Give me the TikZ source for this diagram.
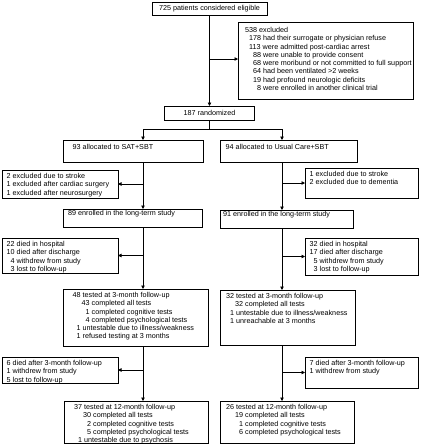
\documentclass[tikz,border=0pt]{standalone}
\usepackage{fontspec}
\setmainfont{Liberation Sans}
\usetikzlibrary{arrows.meta}

\tikzset{
  box/.style 2 args={draw, line width=0.7pt, anchor=north west, inner sep=0pt, outer sep=0pt,
    minimum width=#1pt, minimum height=#2pt, font=\fontsize{7.2}{8.3}\selectfont},
  txt/.style={draw=none, anchor=north west, align=left, minimum width=0pt, minimum height=0pt,
    inner xsep=4.5pt, inner ysep=3pt, font=\fontsize{7.2}{8.3}\selectfont},
  link/.style={line width=0.7pt},
  arr/.style={link, -{Triangle[length=3.5pt,width=3.5pt]}}
}
\newcommand{\lvl}{\hspace*{9pt}}
\newcommand{\dg}{\phantom{0}}

\begin{document}
\begin{tikzpicture}[x=1pt,y=-1pt]
  \useasboundingbox (0,0) rectangle (421,448);
  \coordinate (colL) at (143,0);
  \coordinate (colR) at (282,0);
  \coordinate (jExcl) at (209.5,59);
  \coordinate (split) at (209.5,129);

  \node[box={115}{13}] (elig) at (152,2) {725 patients considered eligible};
  \node[box={175}{77}, label={[txt, inner xsep=7pt, inner ysep=5pt]north west:{538 excluded\\
    \dg 178 had their surrogate or physician refuse\\
    \dg 113 were admitted post-cardiac arrest\\
    \dg\dg 88 were unable to provide consent\\
    \dg\dg 68 were moribund or not committed to full support\\
    \dg\dg 64 had been ventilated >2 weeks\\
    \dg\dg 19 had profound neurologic deficits\\
    \dg\dg\dg 8 were enrolled in another clinical trial}}] (excl) at (238,22) {};
  \node[box={90}{14}] (rand) at (164.5,106) {187 randomized};

  \node[box={140}{22}, label={[txt, inner xsep=9.5pt, inner ysep=4pt]north west:93 allocated to SAT+SBT}] (allocL) at (63,140) {};
  \node[box={137}{22}, label={[txt, inner xsep=5.5pt, inner ysep=4pt]north west:94 allocated to Usual Care+SBT}] (allocR) at (220,140) {};

  \node[box={116}{28}, label={[txt]north west:{2 excluded due to stroke\\
    1 excluded after cardiac surgery\\
    1 excluded after neurosurgery}}] (exL) at (2,170) {};
  \node[box={113}{30}, label={[txt]north west:{1 excluded due to stroke\\
    2 excluded due to dementia}}] (exR) at (305,168) {};

  \node[box={139}{18}, label={[txt, inner xsep=5pt, inner ysep=1.5pt]north west:89 enrolled in the long-term study}] (enrL) at (63,209) {};
  \node[box={133}{18}, label={[txt, inner xsep=3pt, inner ysep=1.5pt]north west:91 enrolled in the long-term study}] (enrR) at (220,210) {};

  \node[box={116}{35}, label={[txt]north west:{22 died in hospital\\
    10 died after discharge\\
    \dg 4 withdrew from study\\
    \dg 3 lost to follow-up}}] (diedL) at (2,238) {};
  \node[box={113}{37}, label={[txt]north west:{32 died in hospital\\
    17 died after discharge\\
    \dg 5 withdrew from study\\
    \dg 3 lost to follow-up}}] (diedR) at (305,238) {};

  \node[box={145}{57}, label={[txt, inner xsep=9.5pt]north west:{48 tested at 3-month follow-up\\
    \lvl 43 completed all tests\\
    \lvl\dg 1 completed cognitive tests\\
    \lvl\dg 4 completed psychological tests\\
    \dg 1 untestable due to illness/weakness\\
    \dg 1 refused testing at 3 months}}] (mthreeL) at (63,289) {};
  \node[box={135}{55}, label={[txt, inner xsep=6pt]north west:{32 tested at 3-month follow-up\\
    \lvl 32 completed all tests\\
    \dg 1 untestable due to illness/weakness\\
    \dg 1 unreachable at 3 months}}] (mthreeR) at (220,290) {};

  \node[box={116}{26}, label={[txt]north west:{6 died after 3-month follow-up\\
    1 withdrew from study\\
    5 lost to follow-up}}] (lateL) at (2,357) {};
  \node[box={113}{31}, label={[txt]north west:{7 died after 3-month follow-up\\
    1 withdrew from study}}] (lateR) at (305,357) {};

  \node[box={144}{42}, label={[txt, inner xsep=10pt]north west:{37 tested at 12-month follow-up\\
    \lvl 30 completed all tests\\
    \lvl\dg 2 completed cognitive tests\\
    \lvl\dg 5 completed psychological tests\\
    \dg 1 untestable due to psychosis}}] (mtwelveL) at (64,401) {};
  \node[box={134}{42}, label={[txt, inner xsep=6pt]north west:{26 tested at 12-month follow-up\\
    \lvl 19 completed all tests\\
    \lvl\dg 1 completed cognitive tests\\
    \lvl\dg 6 completed psychological tests}}] (mtwelveR) at (220,401) {};

  \draw[arr] (elig.south) -- (rand.north);
  \draw[arr] (jExcl) -- (jExcl -| excl.west);
  \draw[link] (rand.south) -- (split);
  \draw[arr] (split) -| (colL |- allocL.north);
  \draw[arr] (split) -| (colR |- allocR.north);

  \foreach \s/\e in {L/east,R/west} {
    \draw[arr] (col\s |- alloc\s.south) -- (col\s |- enr\s.north);
    \draw[arr] (col\s |- ex\s.\e) -- (ex\s.\e);
    \draw[arr] (col\s |- enr\s.south) -- (col\s |- mthree\s.north);
    \draw[arr] (col\s |- died\s.\e) -- (died\s.\e);
    \draw[arr] (col\s |- mthree\s.south) -- (col\s |- mtwelve\s.north);
    \draw[arr] (col\s |- late\s.\e) -- (late\s.\e);
  }
\end{tikzpicture}
\end{document}
